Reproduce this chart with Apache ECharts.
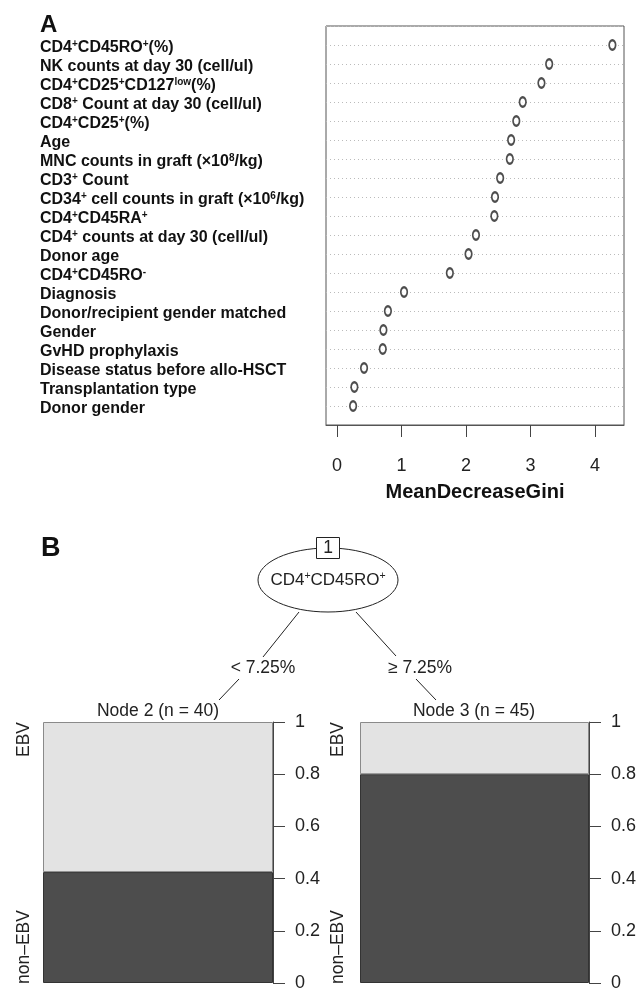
<!DOCTYPE html>
<html><head><meta charset="utf-8">
<script src="https://cdn.jsdelivr.net/npm/echarts@6/dist/echarts.min.js"></script>
<style>html,body{margin:0;padding:0;background:#fff}#c{width:643px;height:992px}</style>
</head><body><div id="c"></div>
<script>
// ---- Panel A data ----
const variables = [
  'CD4^{+}CD45RO^{+}(%)',
  'NK counts at day 30 (cell/ul)',
  'CD4^{+}CD25^{+}CD127^{low}(%)',
  'CD8^{+} Count at day 30 (cell/ul)',
  'CD4^{+}CD25^{+}(%)',
  'Age',
  'MNC counts in graft (×10^{8}/kg)',
  'CD3^{+} Count',
  'CD34^{+} cell counts in graft (×10^{6}/kg)',
  'CD4^{+}CD45RA^{+}',
  'CD4^{+} counts at day 30 (cell/ul)',
  'Donor age',
  'CD4^{+}CD45RO^{-}',
  'Diagnosis',
  'Donor/recipient gender matched',
  'Gender',
  'GvHD prophylaxis',
  'Disease status before allo-HSCT',
  'Transplantation type',
  'Donor gender'
];
const meanDecreaseGini = [4.27, 3.29, 3.17, 2.88, 2.78, 2.70, 2.68, 2.53, 2.45, 2.44,
                          2.155, 2.04, 1.75, 1.04, 0.79, 0.72, 0.71, 0.42, 0.27, 0.25];
const giniTicks = [0, 1, 2, 3, 4];
const giniAxisName = 'MeanDecreaseGini';

// ---- Panel B data ----
const splitVariable = 'CD4^{+}CD45RO^{+}';
const splitNodeId = '1';
const splitLabels = ['< 7.25%', '≥ 7.25%'];
const nodeTitles = ['Node 2 (n = 40)', 'Node 3 (n = 45)'];
const nonEBV = [0.425, 0.80];
const EBV = [0.575, 0.20];
const classLabels = ['EBV', 'non–EBV'];

const FONT = '"Liberation Sans", Arial, Helvetica, sans-serif';
function toRich(s) { return s.replace(/\^\{([^}]*)\}/g, '{sup|$1}'); }

const PAD_TOP = '_padTop', PAD_BOT = '_padBot';
const yCats = [PAD_TOP].concat(variables, [PAD_BOT]);

const chart = echarts.init(document.getElementById('c'), null, {renderer: 'canvas'});

const barGrid = (i) => ({
  xAxis: {gridIndex: i, type: 'category', data: ['p'], show: false},
  yAxis: {
    gridIndex: i, type: 'value', position: 'right', min: 0, max: 1, interval: 0.2,
    axisLine: {show: true, lineStyle: {color: '#444', width: 1}},
    axisTick: {show: true, length: 12, lineStyle: {color: '#444'}},
    axisLabel: {margin: 22, fontSize: 18, color: '#222', fontFamily: FONT},
    splitLine: {show: false}
  }
});
const bg1 = barGrid(1), bg2 = barGrid(2);
const T = '17.5px ' + FONT;

const option = {
  backgroundColor: '#fff',
  animation: false,
  grid: [
    {left: 326, top: 26, width: 298, height: 399, show: true, borderColor: '#555', borderWidth: 1, containLabel: false},
    {left: 43, top: 722, width: 230, height: 262, containLabel: false},
    {left: 360, top: 722, width: 229, height: 262, containLabel: false}
  ],
  xAxis: [
    {
      gridIndex: 0, type: 'value', min: -0.17, max: 4.45,
      axisLine: {show: true, lineStyle: {color: '#555'}},
      axisTick: {show: true, customValues: giniTicks, length: 12, lineStyle: {color: '#444'}},
      axisLabel: {customValues: giniTicks, fontSize: 18, color: '#222', margin: 32, fontFamily: FONT},
      splitLine: {show: false},
      name: giniAxisName, nameLocation: 'middle', nameGap: 57,
      nameTextStyle: {fontSize: 20, fontWeight: 'bold', color: '#111', fontFamily: FONT}
    },
    bg1.xAxis, bg2.xAxis
  ],
  yAxis: [
    {
      gridIndex: 0, type: 'category', data: yCats, inverse: true, boundaryGap: false,
      axisLine: {show: false}, axisTick: {show: false},
      splitLine: {show: true, lineStyle: {color: '#bbb', type: [1, 3], width: 1}},
      axisLabel: {
        interval: 0, align: 'left', margin: 286, fontSize: 16, fontWeight: 'bold',
        color: '#111', fontFamily: FONT, lineHeight: 18, padding: [6, 0, 0, 0],
        formatter: (v) => (v === PAD_TOP || v === PAD_BOT) ? '' : toRich(v),
        rich: {sup: {fontSize: 10, fontWeight: 'bold', color: '#111', fontFamily: FONT, verticalAlign: 'top', lineHeight: 9}}
      }
    },
    bg1.yAxis, bg2.yAxis
  ],
  series: [
    {
      type: 'scatter', xAxisIndex: 0, yAxisIndex: 0,
      symbol: 'emptyCircle', symbolSize: [6.5, 9.5],
      itemStyle: {color: '#222', borderWidth: 1.1},
      data: variables.map((v, i) => [meanDecreaseGini[i], v]), z: 5
    },
    {type: 'bar', xAxisIndex: 1, yAxisIndex: 1, stack: 'n2', barWidth: '100%', data: [nonEBV[0]],
     itemStyle: {color: '#4d4d4d', borderColor: '#333', borderWidth: 1}},
    {type: 'bar', xAxisIndex: 1, yAxisIndex: 1, stack: 'n2', barWidth: '100%', data: [EBV[0]],
     itemStyle: {color: '#e3e3e3', borderColor: '#8a8a8a', borderWidth: 1}},
    {type: 'bar', xAxisIndex: 2, yAxisIndex: 2, stack: 'n3', barWidth: '100%', data: [nonEBV[1]],
     itemStyle: {color: '#4d4d4d', borderColor: '#333', borderWidth: 1}},
    {type: 'bar', xAxisIndex: 2, yAxisIndex: 2, stack: 'n3', barWidth: '100%', data: [EBV[1]],
     itemStyle: {color: '#e3e3e3', borderColor: '#8a8a8a', borderWidth: 1}}
  ],
  graphic: [
    {type: 'text', x: 40, y: 25, style: {text: 'A', font: 'bold 24px ' + FONT, fill: '#111', textVerticalAlign: 'middle'}},
    {type: 'text', x: 41, y: 549, style: {text: 'B', font: 'bold 27px ' + FONT, fill: '#111', textVerticalAlign: 'middle'}},
    // tree edges
    {type: 'line', shape: {x1: 299, y1: 612, x2: 263, y2: 657}, style: {stroke: '#222', lineWidth: 1}},
    {type: 'line', shape: {x1: 239, y1: 679, x2: 219, y2: 700}, style: {stroke: '#222', lineWidth: 1}},
    {type: 'line', shape: {x1: 356, y1: 612, x2: 396, y2: 656}, style: {stroke: '#222', lineWidth: 1}},
    {type: 'line', shape: {x1: 416, y1: 679, x2: 436, y2: 700}, style: {stroke: '#222', lineWidth: 1}},
    // split node
    {type: 'ellipse', shape: {cx: 328, cy: 580, rx: 70, ry: 32}, style: {fill: '#fff', stroke: '#222', lineWidth: 1}},
    {type: 'rect', shape: {x: 316.5, y: 537.5, width: 23, height: 21}, style: {fill: '#fff', stroke: '#222', lineWidth: 1}, z: 110},
    {type: 'text', x: 328, y: 548, z: 111, style: {text: splitNodeId, font: T, fill: '#222', textAlign: 'center', textVerticalAlign: 'middle'}},
    {type: 'text', x: 328, y: 580, style: {text: toRich(splitVariable), font: '17px ' + FONT, fill: '#222', textAlign: 'center', textVerticalAlign: 'middle', lineHeight: 19,
      rich: {sup: {fontSize: 10.5, fontFamily: FONT, fill: '#222', verticalAlign: 'top', lineHeight: 9}}}},
    {type: 'text', x: 263, y: 668, style: {text: splitLabels[0], font: T, fill: '#222', textAlign: 'center', textVerticalAlign: 'middle'}},
    {type: 'text', x: 420, y: 668, style: {text: splitLabels[1], font: T, fill: '#222', textAlign: 'center', textVerticalAlign: 'middle'}},
    // node titles
    {type: 'text', x: 158, y: 711, style: {text: nodeTitles[0], font: T, fill: '#222', textAlign: 'center', textVerticalAlign: 'middle'}},
    {type: 'text', x: 474, y: 711, style: {text: nodeTitles[1], font: T, fill: '#222', textAlign: 'center', textVerticalAlign: 'middle'}},
    // class labels
    {type: 'text', x: 24, y: 722, rotation: Math.PI / 2, style: {text: classLabels[0], font: T, fill: '#222', textAlign: 'right', textVerticalAlign: 'middle'}},
    {type: 'text', x: 24, y: 984, rotation: Math.PI / 2, style: {text: classLabels[1], font: T, fill: '#222', textAlign: 'left', textVerticalAlign: 'middle'}},
    {type: 'text', x: 338, y: 722, rotation: Math.PI / 2, style: {text: classLabels[0], font: T, fill: '#222', textAlign: 'right', textVerticalAlign: 'middle'}},
    {type: 'text', x: 338, y: 984, rotation: Math.PI / 2, style: {text: classLabels[1], font: T, fill: '#222', textAlign: 'left', textVerticalAlign: 'middle'}}
  ]
};
chart.setOption(option);
</script>
</body></html>
